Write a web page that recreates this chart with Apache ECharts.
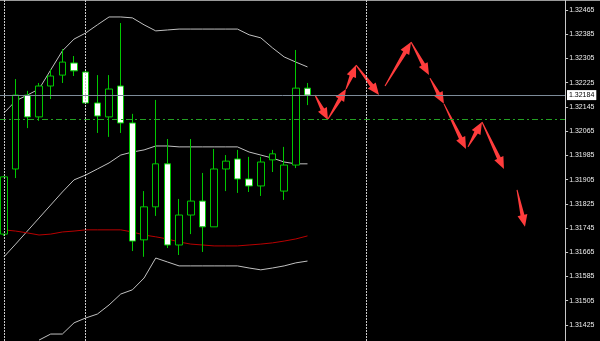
<!DOCTYPE html>
<html><head><meta charset="utf-8">
<script src="https://cdn.jsdelivr.net/npm/echarts@6/dist/echarts.min.js"></script>
<style>html,body{margin:0;padding:0;background:#000;overflow:hidden}#c{width:600px;height:341px}</style>
</head><body><div id="c"></div>
<script>
// ---- data ----
const categories = Array.from({length: 49}, (_, i) => String(i));
const opens  = [1.31725,1.31940,1.32184,1.32112,1.32214,1.32250,1.32290,1.32260,1.32158,1.32112,1.32214,1.32092,1.31706,1.31815,1.31957,1.31689,1.31788,1.31834,1.31749,1.31940,1.31973,1.31907,1.31884,1.31970,1.31867,1.31953,1.32207];
const closes = [1.31914,1.32184,1.32112,1.32214,1.32247,1.32293,1.32264,1.32158,1.32115,1.32204,1.32092,1.31702,1.31815,1.31957,1.31689,1.31788,1.31834,1.31749,1.31940,1.31966,1.31907,1.31884,1.31963,1.31990,1.31953,1.32207,1.32184];
const lows   = [1.31719,1.31910,1.32075,1.32099,1.32171,1.32224,1.32247,1.32155,1.32059,1.32046,1.32059,1.31669,1.31650,1.31785,1.31679,1.31656,1.31725,1.31666,1.31749,1.31867,1.31861,1.31864,1.31851,1.31930,1.31838,1.31943,1.32151];
const highs  = [1.31917,1.32237,1.32198,1.32224,1.32270,1.32336,1.32313,1.32263,1.32250,1.32250,1.32422,1.32122,1.31867,1.32168,1.32039,1.31841,1.32039,1.31927,1.32006,1.31986,1.32003,1.31980,1.31980,1.32003,1.32013,1.32333,1.32224];
const upperBand  = [1.32125,1.32165,1.32184,1.32204,1.32267,1.32330,1.32369,1.32389,1.32416,1.32442,1.32442,1.32439,1.32416,1.32396,1.32399,1.32402,1.32402,1.32402,1.32402,1.32402,1.32402,1.32383,1.32373,1.32340,1.32310,1.32293,1.32277];
const middleBand = [1.31650,1.31692,1.31735,1.31778,1.31821,1.31864,1.31904,1.31920,1.31940,1.31960,1.31986,1.31996,1.32003,1.32016,1.32016,1.32013,1.32013,1.32013,1.32013,1.32013,1.32013,1.31996,1.31986,1.31976,1.31963,1.31957,1.31957];
const lowerBand  = [null,null,null,1.31375,1.31395,1.31395,1.31432,1.31448,1.31461,1.31491,1.31527,1.31541,1.31580,1.31646,1.31633,1.31620,1.31620,1.31620,1.31620,1.31620,1.31620,1.31613,1.31607,1.31613,1.31620,1.31630,1.31636];
const maLine     = [1.31739,1.31735,1.31729,1.31722,1.31725,1.31732,1.31735,1.31739,1.31739,1.31739,1.31739,1.31732,1.31722,1.31716,1.31709,1.31699,1.31692,1.31689,1.31686,1.31686,1.31686,1.31689,1.31692,1.31696,1.31702,1.31709,1.31719];
const arrowFrom = [[26.64,1.32184],[27.76,1.32105],[29.30,1.32204],[30.16,1.32283],[32.64,1.32214],[34.87,1.32359],[36.49,1.32240],[37.69,1.32155],[39.75,1.32013],[40.95,1.32095],[43.95,1.31871]];
const arrowTo   = [[27.76,1.32102],[29.30,1.32204],[30.16,1.32283],[32.13,1.32184],[34.87,1.32359],[36.41,1.32250],[37.69,1.32155],[39.58,1.32006],[40.95,1.32095],[42.83,1.31940],[44.63,1.31749]];
const yTicks = [1.31425,1.31505,1.31585,1.31665,1.31745,1.31825,1.31905,1.31985,1.32065,1.32145,1.32225,1.32305,1.32385,1.32465];
const currentPrice = 1.32184;
const levelPrice = 1.32105;
const sessionLines = [0, 7, 31];

// ---- chart ----
const candleData = opens.map((o, i) => [o, closes[i], lows[i], highs[i]]);
const arrowData = arrowFrom.map((f, i) => [f[0], f[1], arrowTo[i][0], arrowTo[i][1]]);
const AXIS_X = 565;
const FONT = 'Liberation Sans, Arial, sans-serif';

const chart = echarts.init(document.getElementById('c'), null, {renderer: 'canvas'});
const lineBase = {type: 'line', showSymbol: false, symbol: 'none', silent: true, z: 2};
chart.setOption({
  backgroundColor: '#000',
  animation: false,
  grid: {left: -1.84, right: 29.86, top: 0, bottom: 0, containLabel: false, outerBoundsMode: 'none'},
  xAxis: [
    {type: 'category', data: categories, boundaryGap: true, show: false},
    {type: 'value', min: -0.5, max: 48.5, show: false}
  ],
  yAxis: {
    type: 'value', position: 'right', offset: -5, min: 1.31372, max: 1.32498, scale: true,
    axisLine: {show: true, onZero: false, lineStyle: {color: '#c8c8c8', width: 1}},
    axisTick: {show: true, length: 3, inside: false, customValues: yTicks, lineStyle: {color: '#c8c8c8'}},
    axisLabel: {show: true, customValues: yTicks, margin: 4, color: '#eeeeee', fontSize: 7,
      fontFamily: FONT, formatter: v => v.toFixed(5)},
    splitLine: {show: false}
  },
  graphic: [
    {type: 'line', shape: {x1: 0, y1: 0.5, x2: 600, y2: 0.5}, style: {stroke: '#9a9a9a', lineWidth: 1}, silent: true}
  ],
  series: [
    Object.assign({}, lineBase, {name: 'upper', data: upperBand, lineStyle: {color: '#c0c0c0', width: 1}}),
    Object.assign({}, lineBase, {name: 'middle', data: middleBand, lineStyle: {color: '#c0c0c0', width: 1}}),
    Object.assign({}, lineBase, {name: 'lower', data: lowerBand, lineStyle: {color: '#c0c0c0', width: 1}}),
    Object.assign({}, lineBase, {name: 'ma', data: maLine, lineStyle: {color: '#b80000', width: 1}}),
    {
      type: 'candlestick', name: 'price', data: candleData, barWidth: 7, z: 3, silent: true,
      itemStyle: {color: '#000', color0: '#fff', borderColor: '#00c800', borderColor0: '#00c800', borderWidth: 1},
      markLine: {
        silent: true, symbol: ['none', 'none'], animation: false, z: 5,
        data: [
          [{x: 0, yAxis: currentPrice, lineStyle: {color: '#7d8b99', width: 1, type: 'solid'},
            label: {show: true, position: 'end', distance: 2, formatter: currentPrice.toFixed(5),
              backgroundColor: '#fff', color: '#000', fontSize: 7, padding: [2, 2, 1, 2], fontFamily: FONT}},
           {x: AXIS_X, yAxis: currentPrice}],
          [{x: 0, yAxis: levelPrice, lineStyle: {color: '#23a023', width: 1, type: [6, 3, 2, 3]},
            label: {show: false}},
           {x: AXIS_X, yAxis: levelPrice}],
          ...sessionLines.map(i => ({xAxis: i, lineStyle: {color: '#c8c8c8', width: 1, type: [2, 1]}, label: {show: false}}))
        ]
      }
    },
    {
      type: 'custom', name: 'forecast', xAxisIndex: 1, yAxisIndex: 0, z: 4, silent: true,
      data: arrowData,
      encode: {x: [0, 2], y: [1, 3]},
      renderItem: function (params, api) {
        const p0 = api.coord([api.value(0), api.value(1)]);
        const p1 = api.coord([api.value(2), api.value(3)]);
        const dx = p1[0] - p0[0], dy = p1[1] - p0[1];
        const L = Math.sqrt(dx * dx + dy * dy) || 1;
        const ux = dx / L, uy = dy / L, nx = -uy, ny = ux;
        const h = Math.min(12, L * 0.55), w = 5, s = 2, t = 0.5;
        const bx = p1[0] - ux * h, by = p1[1] - uy * h;
        const pts = [
          [p0[0] + nx * t, p0[1] + ny * t],
          [bx + nx * s, by + ny * s],
          [bx + nx * w, by + ny * w],
          [p1[0], p1[1]],
          [bx - nx * w, by - ny * w],
          [bx - nx * s, by - ny * s],
          [p0[0] - nx * t, p0[1] - ny * t]
        ];
        return {type: 'polygon', shape: {points: pts}, style: {fill: '#ff3c3c'}};
      }
    }
  ]
});
</script>
</body></html>
